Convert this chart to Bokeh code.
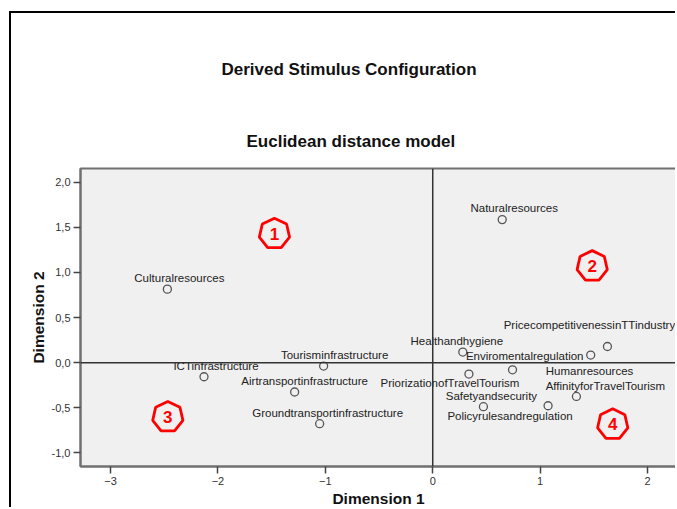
import math
from bokeh.plotting import figure
from bokeh.models import (Range1d, FixedTicker, CustomJSTickFormatter, Span, Title,
                          ColumnDataSource)
from bokeh.embed import file_html
from bokeh.resources import INLINE
from bokeh.core.properties import value

# ---------------- data ----------------
stimuli = ["Culturalresources", "Naturalresources", "ICTinfrastructure",
           "Tourisminfrastructure", "Airtransportinfrastructure",
           "Groundtransportinfrastructure", "Healthandhygiene",
           "Enviromentalregulation", "PricecompetitivenessinTTindustry",
           "Humanresources", "PriorizationofTravelTourism",
           "AffinityforTravelTourism", "Safetyandsecurity",
           "Policyrulesandregulation"]
dim1 = [-2.471, 0.647, -2.130, -1.016, -1.286, -1.053, 0.280,
        1.471, 1.627, 0.743, 0.337, 1.338, 0.472, 1.074]
dim2 = [0.814, 1.584, -0.156, -0.038, -0.325, -0.676, 0.117,
        0.084, 0.179, -0.079, -0.126, -0.374, -0.488, -0.477]
# label placement (pixel offsets from each point)
label_dx = [12, 12, 12, 11, 10, 8, -6, -66, -18, 77, -19, 29, 8, -38]
label_dy = [-11, -12, -11, -11, -11, -11, -11, 1, -21, 1, 9, -10, -11, 10]

x_ticks = [-3, -2, -1, 0, 1, 2]
y_ticks = [-1.0, -0.5, 0.0, 0.5, 1.0, 1.5, 2.0]

badge_text = ["1", "2", "3", "4"]
badge_x = [-1.474, 1.485, -2.467, 1.676]
badge_y = [1.428, 1.069, -0.601, -0.683]

title_text = "Derived Stimulus Configuration"
subtitle_text = "Euclidean distance model"
xlabel_text = "Dimension 1"
ylabel_text = "Dimension 2"

# ---------------- layout ----------------
W, H = 666, 496
XR = (-3.28, 2.27)
YR = (-1.15, 2.15)
BL, BR, BT, BB = 69, 1, 155, 43
FONT = "Liberation Sans"

p = figure(width=W, height=H, output_backend="svg", toolbar_location=None,
           x_range=Range1d(*XR), y_range=Range1d(*YR),
           min_border_left=BL, min_border_right=BR,
           min_border_top=BT, min_border_bottom=BB,
           background_fill_color="#F0F0F0", border_fill_color="white")
p.styles = {"border-left": "2px solid black", "border-top": "2px solid black",
            "margin-left": "9px", "margin-top": "11px"}
p.outline_line_color = "#707070"
p.outline_line_width = 2
p.xgrid.visible = False
p.ygrid.visible = False

# titles
p.title.text = title_text
p.title.align = "left"
p.title.offset = 141
p.title.standoff = 65
p.title.text_font = FONT
p.title.text_font_size = "17px"
p.title.text_font_style = "bold"
p.title.text_color = "#111111"
p.add_layout(Title(text=subtitle_text, align="left", offset=166, standoff=36,
                   text_font=FONT, text_font_size="17px", text_font_style="bold",
                   text_color="#111111"), "above")

fmt = CustomJSTickFormatter(code="return tick.toFixed(1).replace('.', ',');")
p.xaxis.ticker = FixedTicker(ticks=x_ticks)
p.yaxis.ticker = FixedTicker(ticks=y_ticks)
p.yaxis.formatter = fmt
p.xaxis.axis_label = xlabel_text
p.yaxis.axis_label = ylabel_text
for ax in (p.xaxis, p.yaxis):
    ax.axis_line_color = "#707070"
    ax.axis_line_width = 2
    ax.major_tick_line_color = "#444444"
    ax.major_tick_line_width = 1.5
    ax.major_tick_out = 7
    ax.major_tick_in = 0
    ax.minor_tick_line_color = None
    ax.major_label_text_font = FONT
    ax.major_label_text_font_size = "11px"
    ax.major_label_text_color = "#333333"
    ax.major_label_standoff = 3
    ax.axis_label_text_font = FONT
    ax.axis_label_text_font_size = "15.5px"
    ax.axis_label_text_font_style = "bold"
    ax.axis_label_text_color = "#111111"
p.xaxis.axis_label_standoff = 2
p.yaxis.axis_label_standoff = 2

# reference lines through origin
p.add_layout(Span(location=0, dimension="height", line_color="#333333", line_width=1.5))
p.add_layout(Span(location=0, dimension="width", line_color="#333333", line_width=1.5))

src = ColumnDataSource(dict(x=dim1, y=dim2, name=stimuli, dx=label_dx, dy=label_dy))
p.scatter("x", "y", source=src, marker="circle", size=8, fill_color=None,
          line_color="#555555", line_width=1.3)
p.text("x", "y", text="name", x_offset="dx", y_offset="dy", source=src,
       text_font=value(FONT), text_font_size="11.5px", text_color="#222222",
       text_align="center", text_baseline="middle")

# red heptagon badges
kx = (W - BL - BR) / (XR[1] - XR[0])
ky = (H - BT - BB) / (YR[1] - YR[0])
R = 15.5
hx, hy = [], []
for cx, cy in zip(badge_x, badge_y):
    angs = [math.pi / 2 + k * 2 * math.pi / 7 for k in range(7)]
    hx.append([cx + R * math.cos(a) / kx for a in angs])
    hy.append([cy + R * math.sin(a) / ky for a in angs])
p.patches(hx, hy, fill_color=None, line_color="#FF0000", line_width=2.8)
p.text(badge_x, badge_y, text=badge_text, text_font=value(FONT),
       text_font_size="17px", text_font_style="bold", text_color="#FF0000",
       text_align="center", text_baseline="middle")

open("out.html", "w").write(file_html(p, INLINE))
